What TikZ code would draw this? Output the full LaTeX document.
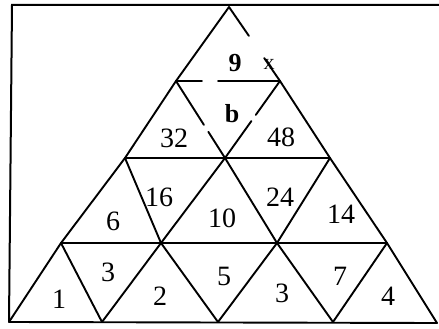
\documentclass[tikz,border=0pt]{standalone}
\usepackage{fontspec}
\setmainfont{Liberation Serif}
\usetikzlibrary{calc}
\tikzset{
  grid/.style={line width=1.9pt, line cap=round, line join=round},
  frame/.style={line width=2pt},
  cell/.style={font=\fontsize{28}{30}\selectfont, inner sep=0pt},
  scrawl/.style={font=\fontsize{26}{28}\selectfont\bfseries, inner sep=0pt},
  cross/.style={font=\fontsize{22}{24}\selectfont, inner sep=0pt}
}

\begin{document}
\begin{tikzpicture}[x=1pt, y=-1pt]
  \useasboundingbox (0,0) rectangle (439,329);

  \coordinate (t) at (229,7);
  \coordinate (a0) at (176,81);  \coordinate (a1) at (280,81);
  \coordinate (b0) at (125,158); \coordinate (b1) at (225,158); \coordinate (b2) at (330,158);
  \coordinate (c0) at (61,243);  \coordinate (c1) at (161,243); \coordinate (c2) at (277,243); \coordinate (c3) at (387,243);
  \coordinate (d0) at (9,322);   \coordinate (d1) at (102,322); \coordinate (d2) at (218,322); \coordinate (d3) at (333,322); \coordinate (d4) at (437,323);
  \coordinate (ftl) at (12,5);   \coordinate (ftr) at (439,5);

  \draw [frame] (d0) -- (ftl) -- (ftr);

  \draw [grid] (d0) -- (c0) -- (b0) -- (a0) -- (t) -- ($(t)!0.39!(a1)$);
  \draw [grid] ($(t)!0.69!(a1)$) -- (a1) -- (b2) -- (c3) -- (d4) -- (d0);
  \draw [grid] (a0) -- ($(a0)!0.25!(a1)$);
  \draw [grid] ($(a0)!0.405!(a1)$) -- (a1);
  \draw [grid] (b0) -- (b2);
  \draw [grid] (c0) -- (c3);
  \draw [grid] (a0) -- ($(a0)!0.57!(b1)$);
  \draw [grid] ($(a0)!0.66!(b1)$) -- (b1) -- (c2) -- (d3);
  \draw [grid] (a1) -- ($(a1)!0.44!(b1)$);
  \draw [grid] ($(a1)!0.52!(b1)$) -- (b1) -- (c1) -- (d1);
  \draw [grid] (b0) -- (c1) -- (d2);
  \draw [grid] (b2) -- (c2) -- (d2);
  \draw [grid] (c0) -- (d1);
  \draw [grid] (c3) -- (d3);

  \node (top) [scrawl] at (235,63) {9};
  \node (xmark) [cross] at (269,64) {x};
  \node (mid) [scrawl] at (232,114) {b};

  \node (n32) [cell] at (174,138) {32};
  \node (n48) [cell] at (281,137) {48};
  \node (n16) [cell] at (159,197) {16};
  \node (n24) [cell] at (280,197) {24};
  \node (n6)  [cell] at (113,221) {6};
  \node (n10) [cell] at (222,218) {10};
  \node (n14) [cell] at (341,214) {14};
  \node (n1)  [cell] at (59,299) {1};
  \node (n3a) [cell] at (108,272) {3};
  \node (n2)  [cell] at (160,296) {2};
  \node (n5)  [cell] at (224,276) {5};
  \node (n3b) [cell] at (282,293) {3};
  \node (n7)  [cell] at (340,276) {7};
  \node (n4)  [cell] at (388,296) {4};

\end{tikzpicture}
\end{document}
